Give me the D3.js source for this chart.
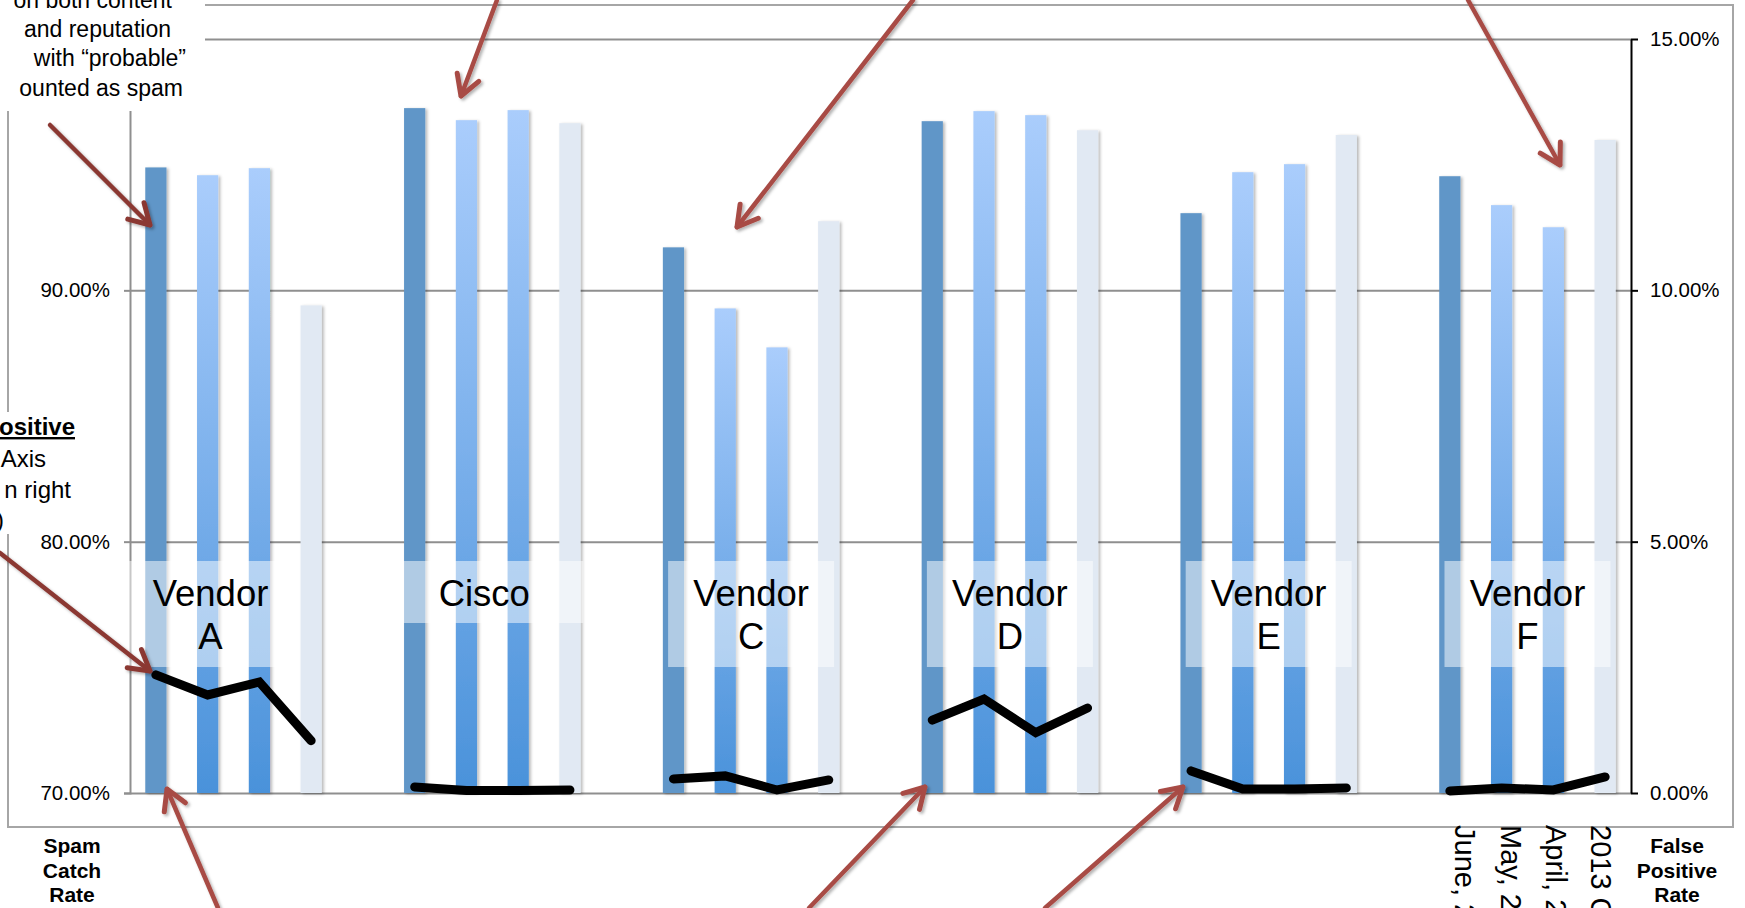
<!DOCTYPE html>
<html><head><meta charset="utf-8">
<script src="https://cdn.jsdelivr.net/npm/d3@7"></script>
<style>html,body{margin:0;padding:0;background:#fff;overflow:hidden}</style>
</head><body>
<svg id="chart" width="1745" height="908"></svg>
<script>
// ---------- data ----------
const vendors = ["Vendor A", "Cisco", "Vendor C", "Vendor D", "Vendor E", "Vendor F"];
const vendorLabelLines = [["Vendor", "A"], ["Cisco"], ["Vendor", "C"], ["Vendor", "D"], ["Vendor", "E"], ["Vendor", "F"]];
const periods = ["June, 2013", "May, 2013", "April, 2013", "2013 Q1"];
// Spam catch rate (%), left axis
const catchJune  = [94.89, 97.25, 91.71, 96.73, 93.07, 94.54];
const catchMay   = [94.58, 96.77, 89.28, 97.13, 94.70, 93.39];
const catchApril = [94.86, 97.17, 87.73, 96.97, 95.02, 92.51];
const catchQ1    = [89.40, 96.65, 92.75, 96.37, 96.18, 95.98];
// False positive rate (%), right axis
const fpJune  = [2.35, 0.12, 0.28, 1.45, 0.44, 0.04];
const fpMay   = [1.95, 0.05, 0.34, 1.87, 0.08, 0.10];
const fpApril = [2.21, 0.05, 0.06, 1.20, 0.08, 0.06];
const fpQ1    = [1.04, 0.06, 0.26, 1.69, 0.10, 0.32];
const leftTicks = [70, 80, 90, 100];
const rightTicks = [0, 5, 10, 15];
const leftAxisTitle = ["Spam", "Catch", "Rate"];
const rightAxisTitle = ["False", "Positive", "Rate"];
const noteTop = ["on both content", "and reputation", "with \u201cprobable\u201d", "ounted as spam"];
const noteLeft = ["ositive", "Axis", "n right", ")"];

const catchSeries = [catchJune, catchMay, catchApril, catchQ1];
const fpSeries = [fpJune, fpMay, fpApril, fpQ1];

// ---------- setup ----------
const FONT = "'Liberation Sans', Arial, Helvetica, sans-serif";
const svg = d3.select("#chart").style("font-family", FONT);
const L = 130, R = 1631, T = 39, B = 793;

const cats = [];
vendors.forEach((v, vi) => {
  periods.forEach(p => cats.push(v + "|" + p));
  if (vi < vendors.length - 1) cats.push("gap" + vi);
});
const x = d3.scaleBand().domain(cats).range([L, R]).paddingInner(0.59).paddingOuter(0.295);
const yL = d3.scaleLinear().domain([70, 100]).range([B, T]);
const yR = d3.scaleLinear().domain([0, 15]).range([B, T]);
const cx = c => x(c) + x.bandwidth() / 2;

const defs = svg.append("defs");
const grad = defs.append("linearGradient").attr("id", "gBar").attr("x1", 0).attr("y1", 0).attr("x2", 0).attr("y2", 1);
grad.append("stop").attr("offset", "0%").attr("stop-color", "#AACDFC");
grad.append("stop").attr("offset", "100%").attr("stop-color", "#4A92DA");
const sh = defs.append("filter").attr("id", "shadow").attr("x", "-30%").attr("y", "-5%").attr("width", "160%").attr("height", "110%");
sh.append("feDropShadow").attr("dx", 2).attr("dy", 1).attr("stdDeviation", 1.5).attr("flood-color", "#000").attr("flood-opacity", 0.28);
const ash = defs.append("filter").attr("id", "ashadow").attr("x", "-20%").attr("y", "-20%").attr("width", "140%").attr("height", "140%");
ash.append("feDropShadow").attr("dx", 2).attr("dy", 2).attr("stdDeviation", 1.5).attr("flood-color", "#000").attr("flood-opacity", 0.3);

// chart border
svg.append("rect").attr("x", 8).attr("y", 5).attr("width", 1725).attr("height", 822)
  .attr("fill", "#fff").attr("stroke", "#a6a6a6").attr("stroke-width", 2);

// gridlines
svg.append("g").attr("transform", `translate(${L},0)`)
  .call(d3.axisLeft(yL).tickValues(leftTicks).tickSize(-(R - L)).tickFormat(""))
  .call(g => g.select(".domain").remove())
  .call(g => g.selectAll("line").attr("stroke", "#8f8f8f").attr("stroke-width", 2));

// bars
const barColors = ["#6096C8", "url(#gBar)", "url(#gBar)", "#E1E9F3"];
const barData = [];
vendors.forEach((v, vi) => periods.forEach((p, pi) => barData.push({ v, p, pi, val: catchSeries[pi][vi] })));
svg.append("g").selectAll("rect").data(barData).join("rect")
  .attr("x", d => x(d.v + "|" + d.p))
  .attr("width", x.bandwidth())
  .attr("y", d => yL(d.val))
  .attr("height", d => yL(70) - yL(d.val))
  .attr("fill", d => barColors[d.pi])
  .attr("filter", "url(#shadow)");

// left axis
svg.append("g").attr("transform", `translate(${L},0)`)
  .call(d3.axisLeft(yL).tickValues(leftTicks).tickSize(6).tickPadding(14).tickFormat(d => d.toFixed(2) + "%"))
  .call(g => g.select(".domain").attr("stroke", "#8f8f8f").attr("stroke-width", 2))
  .call(g => g.selectAll(".tick line").attr("stroke", "#8f8f8f").attr("stroke-width", 2))
  .call(g => g.selectAll("text").attr("font-size", 20.5).attr("font-family", FONT).attr("fill", "#000"));

// right axis
svg.append("g").attr("transform", `translate(${R},0)`)
  .call(d3.axisRight(yR).tickValues(rightTicks).tickSize(7).tickPadding(12).tickSizeOuter(0).tickFormat(d => d.toFixed(2) + "%"))
  .call(g => g.select(".domain").attr("stroke", "#000").attr("stroke-width", 2))
  .call(g => g.selectAll(".tick line").attr("stroke", "#000").attr("stroke-width", 2))
  .call(g => g.selectAll("text").attr("font-size", 20.5).attr("font-family", FONT).attr("fill", "#000"));

// false positive lines (one per vendor)
const line = d3.line().x(d => d[0]).y(d => d[1]);
vendors.forEach((v, vi) => {
  const pts = periods.map((p, pi) => [cx(v + "|" + p), yR(fpSeries[pi][vi])]);
  svg.append("path").attr("d", line(pts)).attr("fill", "none").attr("stroke", "#000")
    .attr("stroke-width", 9).attr("stroke-linecap", "round").attr("stroke-linejoin", "miter");
});

// vendor label boxes
vendors.forEach((v, vi) => {
  const first = x(v + "|" + periods[0]);
  const last = x(v + "|" + periods[periods.length - 1]) + x.bandwidth();
  let gc = (first + last) / 2;
  if (vi === 0) gc -= 23;
  const lines = vendorLabelLines[vi];
  const w = lines.length === 1 ? 182 : 166;
  const h = lines.length === 1 ? 62 : 106;
  svg.append("rect").attr("x", gc - w / 2).attr("y", 561).attr("width", w).attr("height", h)
    .attr("fill", "#fff").attr("fill-opacity", 0.5);
  const tx = lines.length === 1 ? gc - 8 : gc;
  lines.forEach((t, li) => svg.append("text").attr("x", tx).attr("y", 606 + li * 43)
    .attr("text-anchor", "middle").attr("font-size", 36.5).text(t));
});

// category (month) labels, visible for the last group only
{
  const v = vendors[vendors.length - 1];
  const first = x(v + "|" + periods[0]);
  const last = x(v + "|" + periods[periods.length - 1]) + x.bandwidth();
  const gc = (first + last) / 2;
  periods.forEach((p, pi) => {
    const bc = cx(v + "|" + p);
    const lx = gc + 6 + (bc - gc) * 0.875;
    svg.append("text").attr("transform", `translate(${lx},825) rotate(90)`)
      .attr("dy", "0.35em").attr("font-size", 29).text(p);
  });
}

// axis titles
leftAxisTitle.forEach((t, i) => svg.append("text").attr("x", 72).attr("y", 853 + i * 24.5)
  .attr("text-anchor", "middle").attr("font-weight", "bold").attr("font-size", 21).text(t));
rightAxisTitle.forEach((t, i) => svg.append("text").attr("x", 1677).attr("y", 853 + i * 24.5)
  .attr("text-anchor", "middle").attr("font-weight", "bold").attr("font-size", 21).text(t));

// annotation text boxes (cropped at slide edge)
svg.append("rect").attr("x", 0).attr("y", 0).attr("width", 205).attr("height", 111).attr("fill", "#fff");
const topRight = [172, 171, 186, 183];
const topBase = [8, 37, 66, 95.5];
noteTop.forEach((t, i) => svg.append("text").attr("x", topRight[i]).attr("y", topBase[i])
  .attr("text-anchor", "end").attr("font-size", 23).text(t));
svg.append("rect").attr("x", 0).attr("y", 412).attr("width", 82).attr("height", 122).attr("fill", "#fff");
const leftRight = [75, 46, 71, 4];
const leftBase = [435, 467, 498, 528];
noteLeft.forEach((t, i) => svg.append("text").attr("x", leftRight[i]).attr("y", leftBase[i])
  .attr("text-anchor", "end").attr("font-size", 24)
  .attr("font-weight", i === 0 ? "bold" : "normal")
  .attr("text-decoration", i === 0 ? "underline" : "none").text(t));

// arrows
const arrows = [
  { s: [50, 125], t: [150, 225], c: "#8B3833" },
  { s: [0, 553], t: [150, 671], c: "#8B3833" },
  { s: [497, 0], t: [461, 96], c: "#A84B45" },
  { s: [913, 0], t: [737, 227], c: "#A84B45" },
  { s: [1468, 0], t: [1560, 165], c: "#A84B45" },
  { s: [218, 908], t: [167, 789], c: "#A84B45" },
  { s: [809, 908], t: [925, 787], c: "#A84B45" },
  { s: [1045, 908], t: [1183, 787], c: "#A84B45" }
];
const ag = svg.append("g").attr("filter", "url(#ashadow)");
arrows.forEach(a => {
  const dx = a.t[0] - a.s[0], dy = a.t[1] - a.s[1];
  const len = Math.hypot(dx, dy);
  const ux = dx / len, uy = dy / len;
  const th = 30 * Math.PI / 180, al = 23;
  const arm = sgn => {
    const c = Math.cos(th), s = Math.sin(th) * sgn;
    const rx = -(ux * c - uy * s), ry = -(ux * s + uy * c);
    return [a.t[0] + rx * al, a.t[1] + ry * al];
  };
  const a1 = arm(1), a2 = arm(-1);
  ag.append("path").attr("d", `M${a.s[0]},${a.s[1]}L${a.t[0]},${a.t[1]}`)
    .attr("stroke", a.c).attr("stroke-width", 4.5).attr("fill", "none").attr("stroke-linecap", "round");
  ag.append("path").attr("d", `M${a1[0]},${a1[1]}L${a.t[0]},${a.t[1]}L${a2[0]},${a2[1]}`)
    .attr("stroke", a.c).attr("stroke-width", 5).attr("fill", "none")
    .attr("stroke-linecap", "round").attr("stroke-linejoin", "round");
});
</script>
</body></html>
